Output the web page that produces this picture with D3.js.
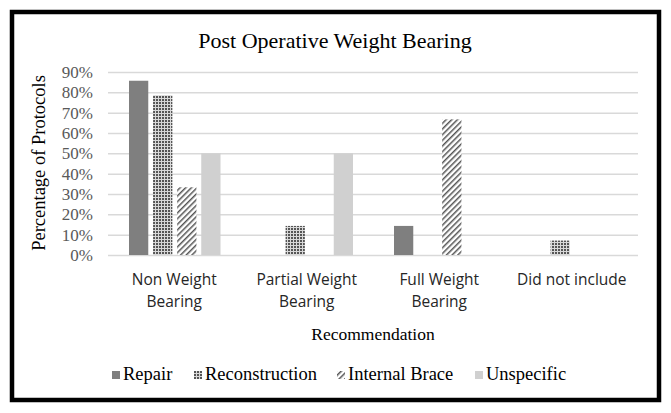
<!DOCTYPE html>
<html lang="en">
  <head>
    <meta charset="utf-8">
    <title>Post Operative Weight Bearing</title>
    <script src="https://d3js.org/d3.v7.js"></script>
    <style>
      body { margin: 0; background: white; }
    </style>
  </head>
  <body>
  <script>

// data
  var categories = [["Non Weight", "Bearing"], ["Partial Weight", "Bearing"], ["Full Weight", "Bearing"], ["Did not include"]];
  var series = ["Repair", "Reconstruction", "Internal Brace", "Unspecific"];
  var repair = [0.857, 0, 0.143, 0];
  var reconstruction = [0.786, 0.143, 0, 0.071];
  var internalBrace = [0.333, 0, 0.667, 0];
  var unspecific = [0.5, 0.5, 0, 0];
  var yTicks = [0, 0.1, 0.2, 0.3, 0.4, 0.5, 0.6, 0.7, 0.8, 0.9];

  var values = [repair, reconstruction, internalBrace, unspecific];

  var w = 671;
  var h = 413;
  var margin = {top: 72, right: 33, bottom: 158, left: 108};
  var innerWidth = w - margin.left - margin.right;
  var innerHeight = h - margin.top - margin.bottom;

  var svg = d3.select("body")
    .append("svg")
      .attr("width", w)
      .attr("height", h);

// patterns
  var defs = svg.append("defs");

  var dots = defs.append("pattern")
      .attr("id", "dots")
      .attr("width", 3).attr("height", 3)
      .attr("patternUnits", "userSpaceOnUse");
  dots.append("rect").attr("width", 3).attr("height", 3).attr("fill", "#d8d8d8");
  dots.append("rect").attr("width", 2).attr("height", 2).attr("fill", "#555");

  var stripes = defs.append("pattern")
      .attr("id", "stripes")
      .attr("width", 4).attr("height", 4)
      .attr("patternUnits", "userSpaceOnUse")
      .attr("patternTransform", "rotate(45)");
  stripes.append("rect").attr("width", 4).attr("height", 4).attr("fill", "white");
  stripes.append("rect").attr("width", 1.5).attr("height", 4).attr("fill", "#555");

  var fills = ["#7f7f7f", "url(#dots)", "url(#stripes)", "#d0d0d0"];

// border
  svg.append("rect")
      .attr("x", 12)
      .attr("y", 12)
      .attr("width", 647)
      .attr("height", 388)
      .attr("fill", "white")
      .attr("stroke", "black")
      .attr("stroke-width", 4.5);

  var xScale = d3.scaleBand()
      .domain(d3.range(categories.length))
      .range([0, innerWidth]);

  var xInner = d3.scaleBand()
      .domain(series)
      .range([21, xScale.bandwidth() - 20])
      .paddingInner(0.2);

  var yScale = d3.scaleLinear()
      .domain([0, 0.9])
      .range([innerHeight, 0]);

  var g = svg.append("g")
      .attr("transform", `translate (${margin.left}, ${margin.top})`);

// gridlines
  var yAxis = d3.axisLeft()
      .scale(yScale)
      .tickValues(yTicks)
      .tickSize(-innerWidth)
      .tickPadding(15)
      .tickFormat(d3.format(".0%"));

  g.append("g")
      .attr("class", "yAxis")
      .call(yAxis)
      .call(a => a.select(".domain").remove())
      .call(a => a.selectAll("line").attr("stroke", "#d9d9d9").attr("stroke-width", 1.5))
      .call(a => a.selectAll("text")
          .attr("fill", "#595959")
          .attr("font-family", "Liberation Serif")
          .attr("font-size", 17));

// bars
  series.forEach(function(s, i) {
    g.append("g")
      .selectAll("rect")
      .data(values[i])
      .enter().append("rect")
        .attr("x", (d, j) => xScale(j) + xInner(s))
        .attr("y", d => yScale(d))
        .attr("width", xInner.bandwidth())
        .attr("height", d => innerHeight - yScale(d))
        .attr("fill", fills[i]);
  });

// category labels
  var cat = g.append("g")
    .selectAll("text")
      .data(categories)
      .enter().append("text")
      .attr("x", (d, j) => xScale(j) + xScale.bandwidth() / 2)
      .attr("y", innerHeight + 30)
      .attr("text-anchor", "middle")
      .attr("font-family", "Open Sans")
      .attr("font-size", 15.5)
      .attr("fill", "#262626");

  cat.selectAll("tspan")
      .data(d => d)
      .enter().append("tspan")
      .attr("x", function() { return d3.select(this.parentNode).attr("x"); })
      .attr("dy", (d, k) => k === 0 ? 0 : 22)
      .text(d => d);

// axis titles
  svg.append("text")
      .attr("x", 335)
      .attr("y", 48)
      .attr("text-anchor", "middle")
      .attr("font-family", "Liberation Serif")
      .attr("font-size", 22)
      .text("Post Operative Weight Bearing");

  svg.append("text")
      .attr("x", margin.left + innerWidth / 2)
      .attr("y", 340)
      .attr("text-anchor", "middle")
      .attr("font-family", "Liberation Serif")
      .attr("font-size", 17.5)
      .text("Recommendation");

  svg.append("text")
      .attr("transform", "translate(45, 163) rotate(-90)")
      .attr("text-anchor", "middle")
      .attr("font-family", "Liberation Serif")
      .attr("font-size", 18.5)
      .text("Percentage of Protocols");

// legend
  var legendX = [112, 194, 337, 475];
  var legend = svg.append("g")
    .selectAll("g")
      .data(series)
      .enter().append("g")
      .attr("transform", (d, i) => `translate (${legendX[i]}, 380)`);

  legend.append("rect")
      .attr("x", 0)
      .attr("y", -9)
      .attr("width", 8)
      .attr("height", 8)
      .attr("fill", (d, i) => fills[i]);

  legend.append("text")
      .attr("x", 11)
      .attr("y", 0)
      .attr("font-family", "Liberation Serif")
      .attr("font-size", 18.5)
      .text(d => d);

  </script>
  </body>
</html>
